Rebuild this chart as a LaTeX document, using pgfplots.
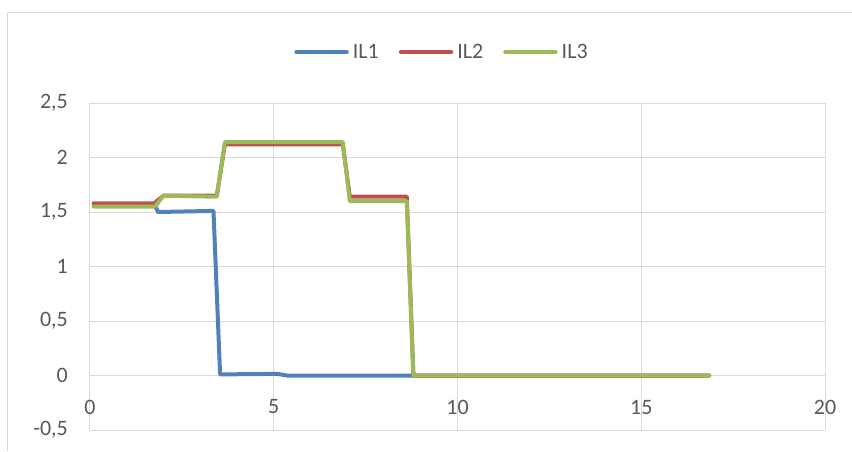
\documentclass[border=0pt]{standalone}
\usepackage{pgfplots}
\pgfplotsset{compat=1.18}
\usepackage{fontspec}
\setmainfont{Carlito}
\definecolor{cblue}{HTML}{4F81BD}
\definecolor{cred}{HTML}{C0504D}
\definecolor{cgreen}{HTML}{9BBB59}
\definecolor{cgrid}{HTML}{D9D9D9}
\definecolor{ctext}{HTML}{595959}
\begin{document}
\begin{tikzpicture}
\begin{axis}[
 at={(0pt,0pt)}, anchor=south west,
 scale only axis, width=735pt, height=327pt,
 xmin=0, xmax=20, ymin=-0.5, ymax=2.5,
 xtick={0,5,10,15,20}, ytick={-0.5,0,0.5,1,1.5,2,2.5},
 grid=major, major grid style={cgrid, line width=1pt},
 axis line style={draw=none},
 major tick length=0pt,
 /pgf/number format/use comma,
 /pgf/number format/assume math mode=true,
 tick label style={font=\fontsize{22}{26}\selectfont, text=ctext},
 yticklabel style={anchor=east, inner sep=0pt, xshift=-22pt},
 xticklabel style={anchor=center, inner sep=0pt, yshift=23pt},
 legend style={at={(0.5,1)}, anchor=center, xshift=-15.5pt, yshift=51pt, draw=none, fill=none, font=\fontsize{22}{26}\selectfont, text=ctext, legend columns=3, inner sep=0pt,
   /tikz/every even column/.append style={column sep=18pt},
   /tikz/every odd column/.append style={column sep=2pt}},
 legend image code/.code={\draw[#1, line width=4.5pt, line cap=round] (0pt,0pt) -- (50pt,0pt);},
 every axis plot/.append style={line width=4pt, line join=round, line cap=round},
]
\addplot[cblue] coordinates {(0.1,1.57) (1.75,1.57) (1.85,1.50) (3.36,1.51) (3.54,0.01) (5.1,0.015) (5.35,0) (16.85,0)};
\addlegendentry{IL1}
\addplot[cred] coordinates {(0.1,1.58) (1.75,1.58) (2.0,1.65) (3.45,1.65) (3.67,2.12) (6.88,2.12) (7.07,1.64) (8.62,1.64) (8.8,0) (16.85,0)};
\addlegendentry{IL2}
\addplot[cgreen] coordinates {(0.1,1.55) (1.77,1.55) (2.0,1.65) (3.45,1.64) (3.67,2.14) (6.88,2.14) (7.07,1.60) (8.62,1.60) (8.8,0) (16.85,0)};
\addlegendentry{IL3}
\end{axis}
\draw[cgrid, line width=1pt] (-82pt,-21pt) -- (-82pt,418pt) -- (762pt,418pt);
\pgfresetboundingbox
\path[use as bounding box] (-90pt,-21pt) rectangle (762pt,430pt);
\end{tikzpicture}
\end{document}
